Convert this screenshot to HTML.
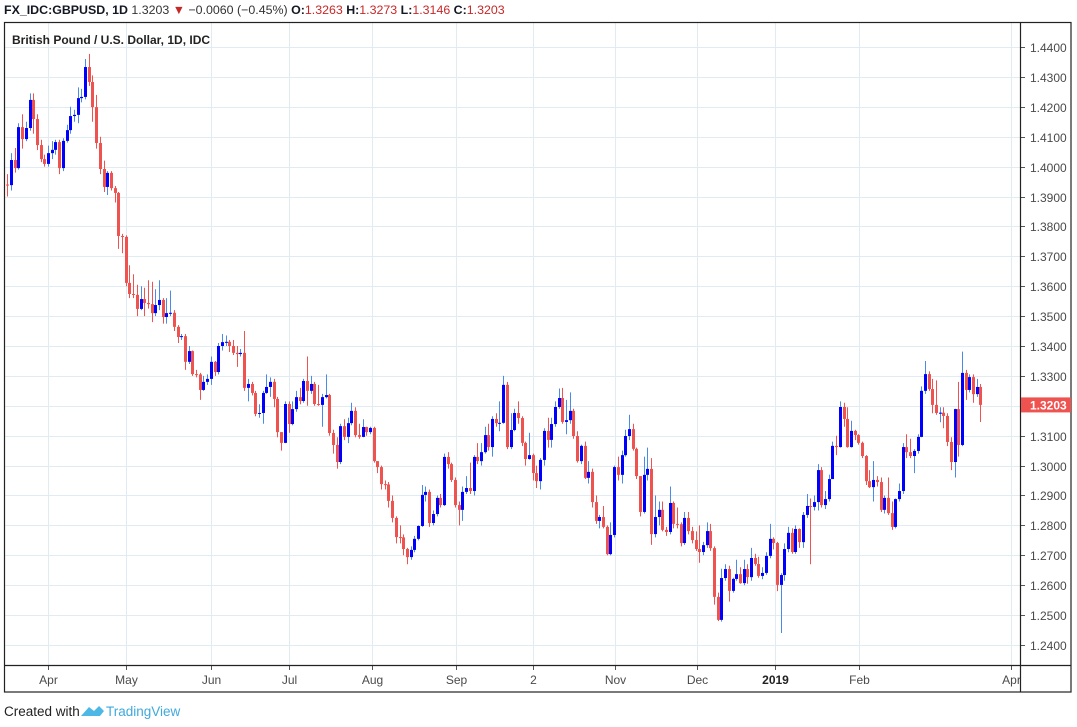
<!DOCTYPE html>
<html><head><meta charset="utf-8"><style>
html,body{margin:0;padding:0;background:#fff;}
body{width:1077px;height:727px;overflow:hidden;font-family:"Liberation Sans",sans-serif;}
svg{display:block}
</style></head><body>
<svg id="chart" width="1077" height="727" viewBox="0 0 1077 727" xmlns="http://www.w3.org/2000/svg">
  <g id="grid"></g>
  <g id="candles"></g>
  <g id="axes"></g>
  <text x="4" y="14" font-size="12.4" fill="#131722" font-family="Liberation Sans, sans-serif"><tspan font-weight="bold">FX_IDC:GBPUSD, 1D</tspan><tspan fill="#333"> 1.3203 </tspan><tspan fill="#c62828">▼</tspan><tspan fill="#333"> −0.0060 (−0.45%) </tspan><tspan font-weight="bold">O:</tspan><tspan fill="#c62828">1.3263 </tspan><tspan font-weight="bold">H:</tspan><tspan fill="#c62828">1.3273 </tspan><tspan font-weight="bold">L:</tspan><tspan fill="#c62828">1.3146 </tspan><tspan font-weight="bold">C:</tspan><tspan fill="#c62828">1.3203</tspan></text>
  <text x="12" y="44" font-size="12" font-weight="bold" fill="#222">British Pound / U.S. Dollar, 1D, IDC</text>
  <text x="4" y="716" font-size="13.5" fill="#222">Created with</text>
  <g>
    <path d="M81 716 L89 707 L94 711 L99 706 L104 711 L100 716 Z" fill="#4db8e5"/>
    <text x="106" y="716" font-size="13.5" fill="#3fa9dc">TradingView</text>
  </g>
</svg>
<script>
const closes=[1.3938,1.4022,1.3995,1.4132,1.4092,1.4129,1.4223,1.4159,1.4072,1.4025,1.4009,1.4045,1.4056,1.4082,1.3995,1.4086,1.4122,1.4169,1.4173,1.4229,1.4233,1.4333,1.4283,1.4199,1.4079,1.3992,1.3932,1.3979,1.3928,1.3912,
1.3768,1.3765,1.3611,1.3574,1.3571,1.3524,1.3557,1.3544,1.3540,1.3510,1.3537,1.3554,1.3497,1.3510,1.3511,1.3464,1.3430,1.3433,1.3347,1.3383,
1.3306,1.3305,1.3253,1.3280,1.3290,1.3347,1.3313,1.3400,1.3413,1.3414,1.3400,1.3377,1.3373,1.3377,1.3260,1.3273,1.3243,1.3173,1.3176,1.3243,
1.3263,1.3280,1.3223,1.3112,1.3076,1.3206,1.3139,1.3189,1.3229,1.3216,1.3283,1.3250,1.3273,1.3206,1.3203,1.3229,1.3236,1.3109,1.3069,1.3012,
1.3132,1.3096,1.3142,1.3183,1.3102,1.3096,1.3129,1.3112,1.3126,1.3015,1.2995,1.2938,1.2937,1.2882,1.2825,1.2761,1.2760,1.2721,1.2694,1.2718,
1.2755,1.2798,1.2902,1.2912,1.2808,1.2838,1.2892,1.2868,1.3029,1.3005,1.2952,1.2868,1.2852,1.2912,1.2925,1.2915,1.3029,1.3015,1.3045,1.3102,
1.3062,1.3156,1.3142,1.3143,1.3270,1.3062,1.3119,1.3176,1.3159,1.3076,1.3022,1.3035,1.2975,1.2948,1.3019,1.3116,1.3086,1.3139,1.3196,1.3226,
1.3146,1.3152,1.3183,1.3099,1.3015,1.3066,1.2959,1.2979,1.2878,1.2815,1.2828,1.2795,1.2704,1.2768,1.2995,1.2969,1.3035,1.3099,1.3122,1.3056,
1.2965,1.2845,1.2969,1.2989,1.2771,1.2828,1.2852,1.2785,1.2778,1.2875,1.2805,1.2804,1.2741,1.2825,1.2781,1.2751,1.2721,1.2711,1.2734,1.2781,
1.2724,1.2561,1.2484,1.2624,1.2654,1.2581,1.2621,1.2637,1.2607,1.2654,1.2627,1.2691,1.2671,1.2631,1.2641,1.2698,1.2755,1.2741,1.2601,1.2634,
1.2721,1.2775,1.2711,1.2788,1.2744,1.2835,1.2865,1.2862,1.2878,1.2985,1.2868,1.2888,1.2955,1.3066,1.3062,1.3196,1.3156,1.3062,1.3116,1.3102,
1.3076,1.3032,1.2948,1.2928,1.2952,1.2945,1.2852,1.2892,1.2841,1.2795,1.2888,1.2915,1.3062,1.3045,1.3032,1.3049,1.3096,1.3250,1.3306,1.3256,
1.3203,1.3176,1.3177,1.3166,1.3079,1.3012,1.3189,1.3069,1.3310,1.3253,1.3296,1.3239,1.3263,1.3203];
const highs=[1.3975,1.4045,1.4062,1.4145,1.4175,1.4150,1.4245,1.4245,1.4175,1.4090,1.4040,1.4070,1.4085,1.4090,1.4090,1.4095,1.4140,1.4200,1.4190,1.4265,1.4260,1.4360,1.4377,1.4305,1.4240,1.4100,1.4020,1.3985,1.3985,1.3935,
1.3915,1.3775,1.3770,1.3670,1.3640,1.3605,1.3600,1.3595,1.3620,1.3615,1.3590,1.3620,1.3560,1.3560,1.3585,1.3520,1.3470,1.3440,1.3440,1.3400,
1.3385,1.3320,1.3310,1.3300,1.3305,1.3365,1.3350,1.3410,1.3440,1.3435,1.3420,1.3420,1.3400,1.3390,1.3450,1.3290,1.3280,1.3250,1.3205,1.3250,
1.3305,1.3295,1.3290,1.3230,1.3112,1.3215,1.3215,1.3215,1.3250,1.3260,1.3290,1.3365,1.3300,1.3280,1.3270,1.3240,1.3305,1.3240,1.3120,1.3095,
1.3140,1.3155,1.3160,1.3210,1.3195,1.3140,1.3155,1.3130,1.3130,1.3130,1.3015,1.3000,1.2950,1.2945,1.2900,1.2830,1.2800,1.2770,1.2725,1.2730,
1.2765,1.2800,1.2935,1.2930,1.2920,1.2850,1.2900,1.2905,1.3040,1.3045,1.3010,1.2960,1.2880,1.2930,1.2965,1.3010,1.3035,1.3075,1.3075,1.3130,
1.3140,1.3165,1.3175,1.3215,1.3300,1.3280,1.3175,1.3190,1.3215,1.3165,1.3080,1.3110,1.3040,1.3000,1.3025,1.3125,1.3160,1.3160,1.3215,1.3258,
1.3260,1.3220,1.3245,1.3190,1.3115,1.3070,1.3080,1.3015,1.2990,1.2900,1.2835,1.2865,1.2800,1.2810,1.3000,1.3030,1.3050,1.3120,1.3170,1.3140,
1.3060,1.2965,1.3030,1.3060,1.3025,1.2900,1.2880,1.2880,1.2795,1.2930,1.2880,1.2860,1.2810,1.2845,1.2845,1.2795,1.2780,1.2800,1.2745,1.2810,
1.2805,1.2730,1.2575,1.2655,1.2670,1.2665,1.2625,1.2685,1.2660,1.2685,1.2670,1.2725,1.2705,1.2695,1.2660,1.2710,1.2805,1.2760,1.2745,1.2640,
1.2740,1.2795,1.2790,1.2800,1.2790,1.2845,1.2905,1.2890,1.2900,1.3005,1.2995,1.2915,1.2970,1.3080,1.3100,1.3215,1.3210,1.3195,1.3150,1.3120,
1.3105,1.3080,1.3035,1.2985,1.3015,1.2965,1.2960,1.2900,1.2960,1.2880,1.2890,1.2940,1.3075,1.3105,1.3090,1.3055,1.3105,1.3265,1.3350,1.3315,
1.3290,1.3285,1.3195,1.3195,1.3175,1.3095,1.3190,1.3280,1.3381,1.3320,1.3305,1.3305,1.3290,1.3273];
const lows=[1.3900,1.3920,1.3980,1.3990,1.4060,1.4085,1.4120,1.4110,1.4055,1.4015,1.4000,1.4000,1.4025,1.4040,1.3975,1.3985,1.4080,1.4110,1.4150,1.4145,1.4215,1.4225,1.4270,1.4150,1.4060,1.3975,1.3915,1.3905,1.3920,1.3880,
1.3725,1.3710,1.3600,1.3560,1.3560,1.3500,1.3520,1.3500,1.3525,1.3480,1.3500,1.3520,1.3475,1.3475,1.3500,1.3450,1.3410,1.3420,1.3320,1.3340,
1.3300,1.3295,1.3220,1.3250,1.3270,1.3270,1.3300,1.3305,1.3385,1.3400,1.3380,1.3370,1.3330,1.3365,1.3250,1.3215,1.3235,1.3165,1.3160,1.3140,
1.3240,1.3230,1.3195,1.3095,1.3050,1.3075,1.3110,1.3135,1.3180,1.3205,1.3210,1.3200,1.3240,1.3200,1.3200,1.3130,1.3225,1.3100,1.3040,1.2990,
1.3005,1.3085,1.3075,1.3135,1.3095,1.3090,1.3095,1.3100,1.3105,1.3010,1.2975,1.2920,1.2920,1.2860,1.2810,1.2740,1.2740,1.2700,1.2670,1.2685,
1.2710,1.2750,1.2795,1.2880,1.2795,1.2800,1.2830,1.2860,1.2865,1.2990,1.2945,1.2860,1.2800,1.2815,1.2905,1.2905,1.2900,1.3005,1.3000,1.3040,
1.3050,1.3030,1.3130,1.3115,1.3140,1.3055,1.3055,1.3115,1.3140,1.3065,1.3000,1.3020,1.2950,1.2925,1.2920,1.3000,1.3060,1.3060,1.3130,1.3190,
1.3140,1.3105,1.3140,1.3090,1.3010,1.3005,1.2955,1.2940,1.2860,1.2805,1.2790,1.2790,1.2700,1.2700,1.2760,1.2950,1.2940,1.3030,1.3085,1.3050,
1.2955,1.2830,1.2840,1.2950,1.2735,1.2760,1.2800,1.2780,1.2765,1.2770,1.2790,1.2790,1.2730,1.2735,1.2770,1.2740,1.2715,1.2675,1.2700,1.2725,
1.2715,1.2535,1.2480,1.2478,1.2615,1.2545,1.2575,1.2615,1.2605,1.2600,1.2605,1.2615,1.2665,1.2625,1.2620,1.2635,1.2690,1.2720,1.2580,1.2440,
1.2615,1.2710,1.2705,1.2705,1.2725,1.2725,1.2825,1.2670,1.2850,1.2850,1.2860,1.2855,1.2880,1.2955,1.3035,1.3060,1.3130,1.3060,1.3060,1.3085,
1.3070,1.3025,1.2935,1.2925,1.2880,1.2930,1.2845,1.2840,1.2835,1.2785,1.2790,1.2880,1.2905,1.3025,1.3025,1.2975,1.3040,1.3095,1.3240,1.3250,
1.3175,1.3170,1.3145,1.3125,1.3065,1.2985,1.2960,1.3030,1.3065,1.3220,1.3245,1.3210,1.3230,1.3146];
const firstOpen=1.3940;
const priceTicks=[1.24,1.25,1.26,1.27,1.28,1.29,1.30,1.31,1.32,1.33,1.34,1.35,1.36,1.37,1.38,1.39,1.40,1.41,1.42,1.43,1.44];
const monthLabels=["Apr","May","Jun","Jul","Aug","Sep","2","Nov","Dec","2019","Feb","Apr"];
const monthIndex=[11,32.1,55,76.1,98.6,121.3,142.1,164.2,186.4,207.5,230.2,271.3];
const lastPrice=1.3203;

const NS="http://www.w3.org/2000/svg";
const PL=5,PR=1020,PT=22,PB=665,RIGHT=1071,BOTTOM=692;
function yS(p){return 645-(p-1.24)*2990;}
function xS(i){return 7.3+i*3.70;}
function mk(tag,attrs,parent){const e=document.createElementNS(NS,tag);for(const k in attrs)e.setAttribute(k,attrs[k]);parent.appendChild(e);return e;}
const grid=document.getElementById('grid'),cg=document.getElementById('candles'),ax=document.getElementById('axes');

priceTicks.forEach(p=>{
  const y=Math.round(yS(p))+0.5;
  const l=mk('line',{x1:PL,x2:PR,y1:y,y2:y,stroke:'#e1ecf2','stroke-width':1},grid);
  
  
  const t=mk('line',{x1:PR,x2:PR+5,y1:y,y2:y,stroke:'#555','stroke-width':1},ax);
  
  
  const tx=mk('text',{x:PR+10,y:y+4.5,'font-size':12,fill:'#4a4a4a'},ax);
  tx.textContent=p.toFixed(4);
  
  
});
monthLabels.forEach((m,k)=>{
  const x=Math.round(xS(monthIndex[k]))+0.5;
  const l=mk('line',{x1:x,x2:x,y1:PT,y2:PB,stroke:'#e1ecf2','stroke-width':1},grid);
  
  
  const t=mk('line',{x1:x,x2:x,y1:PB,y2:PB+5,stroke:'#555','stroke-width':1},ax);
  
  
  const tx=mk('text',{x:x,y:PB+19,'font-size':12,fill:m==='2019'?'#222':'#4a4a4a','font-weight':m==='2019'?'bold':'normal','text-anchor':'middle'},ax);
  tx.textContent=m;
  
  
});

closes.forEach((c,i)=>{
  const o=i===0?firstOpen:closes[i-1];
  const up=c>=o;
  const x=Math.round(xS(i));
  const w=mk('line',{x1:x+0.5,x2:x+0.5,y1:yS(highs[i]),y2:yS(lows[i]),stroke:up?'#4a8ae8':'#ef5350','stroke-width':1},cg);
  
  
  const y1=yS(Math.max(o,c)),y2=yS(Math.min(o,c));
  const b=mk('rect',{x:x-1,y:y1,width:3,height:Math.max(1,y2-y1),fill:up?'#0000ff':'#ef5350'},cg);
  
  
});

const frame=mk('rect',{x:4.5,y:22.5,width:RIGHT-4.5,height:BOTTOM-22.5,fill:'none',stroke:'#222','stroke-width':1.2},ax);


const vdiv=mk('line',{x1:PR+0.5,x2:PR+0.5,y1:22,y2:BOTTOM,stroke:'#222','stroke-width':1.2},ax);


const hdiv=mk('line',{x1:4,x2:RIGHT,y1:PB+0.5,y2:PB+0.5,stroke:'#222','stroke-width':1.2},ax);



const ly=yS(lastPrice);
const lb=mk('rect',{x:PR+1,y:ly-7.5,width:RIGHT-PR-1,height:15,fill:'#ef5350'},ax);


const lt=mk('text',{x:PR+10,y:ly+4.5,'font-size':12,fill:'#fff','font-weight':'bold'},ax);
lt.textContent=lastPrice.toFixed(4);


</script>
</body></html>
